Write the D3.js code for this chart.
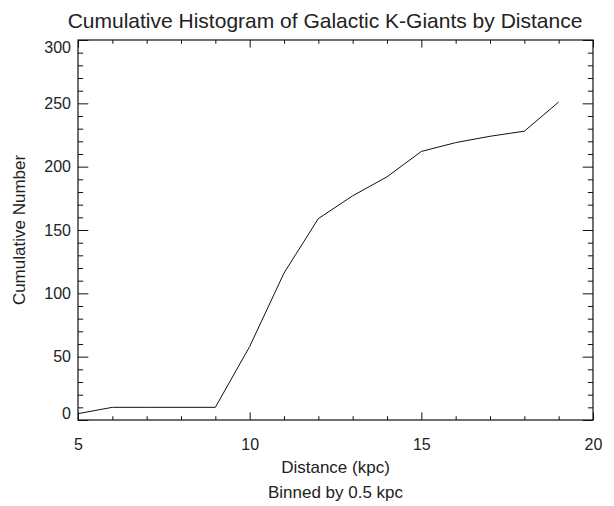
<!DOCTYPE html>
<html>
<head>
<meta charset="utf-8">
<script src="https://cdn.jsdelivr.net/npm/d3@7"></script>
<style>
  body { margin: 0; background: #fff; }
  text { font-family: "Liberation Sans", Arial, Helvetica, sans-serif; fill: #222; }
</style>
</head>
<body>
<div class="chart"></div>
<script>
// cumulative counts, one per kpc
const distance = [5, 6, 7, 8, 9, 10, 11, 12, 13, 14, 15, 16, 17, 18, 19];
const cumulative = [5, 10, 10, 10, 10, 58, 116, 159, 177, 192, 212, 219, 224, 228, 251];
const xMajor = [5, 10, 15, 20];
const yMajor = [0, 50, 100, 150, 200, 250, 300];

const width = 614;
const height = 506;
const margin = {top: 40, right: 21, bottom: 86, left: 78};

const svg = d3.select(".chart")
    .append("svg")
    .attr("width", width)
    .attr("height", height);

const x = d3.scaleLinear().domain([5, 20]).range([margin.left, width - margin.right]);
const y = d3.scaleLinear().domain([0, 300]).range([height - margin.bottom, margin.top]);

const plotW = x.range()[1] - x.range()[0];
const plotH = y.range()[0] - y.range()[1];
// IDL-ish tick lengths: 2% of the other dimension, minors half
const xTick = 0.02 * plotH;
const yTick = 0.02 * plotW;
const xMinor = d3.range(5, 21, 1).filter(d => d % 5 !== 0);
const yMinor = d3.range(0, 301, 10).filter(d => d % 50 !== 0);

// bottom
svg.append("g")
    .attr("transform", `translate(0,${y(0)})`)
    .call(d3.axisBottom(x).tickValues(xMajor).tickSize(-xTick).tickSizeOuter(0).tickPadding(19).tickFormat(d3.format("d")))
    .call(g => g.select(".domain").remove())
    .call(g => g.selectAll("text").attr("font-size", 16).attr("font-family", null));
svg.append("g")
    .attr("transform", `translate(0,${y(0)})`)
    .call(d3.axisBottom(x).tickValues(xMinor).tickSize(-xTick / 2).tickFormat(""))
    .call(g => g.select(".domain").remove());
// top
svg.append("g")
    .attr("transform", `translate(0,${y(300)})`)
    .call(d3.axisTop(x).tickValues(xMajor).tickSize(-xTick).tickFormat(""))
    .call(g => g.select(".domain").remove());
svg.append("g")
    .attr("transform", `translate(0,${y(300)})`)
    .call(d3.axisTop(x).tickValues(xMinor).tickSize(-xTick / 2).tickFormat(""))
    .call(g => g.select(".domain").remove());
// left
svg.append("g")
    .attr("transform", `translate(${x(5)},0)`)
    .call(d3.axisLeft(y).tickValues(yMajor).tickSize(-yTick).tickPadding(7).tickFormat(d3.format("d")))
    .call(g => g.select(".domain").remove())
    .call(g => g.selectAll("text").attr("font-size", 16).attr("font-family", null)
        .attr("dy", d => d === 300 ? "0.75em" : d === 0 ? "-0.1em" : "0.32em"));
svg.append("g")
    .attr("transform", `translate(${x(5)},0)`)
    .call(d3.axisLeft(y).tickValues(yMinor).tickSize(-yTick / 2).tickFormat(""))
    .call(g => g.select(".domain").remove());
// right
svg.append("g")
    .attr("transform", `translate(${x(20)},0)`)
    .call(d3.axisRight(y).tickValues(yMajor).tickSize(-yTick).tickFormat(""))
    .call(g => g.select(".domain").remove());
svg.append("g")
    .attr("transform", `translate(${x(20)},0)`)
    .call(d3.axisRight(y).tickValues(yMinor).tickSize(-yTick / 2).tickFormat(""))
    .call(g => g.select(".domain").remove());

svg.selectAll(".tick line").attr("stroke", "#111");

// box
svg.append("rect")
    .attr("x", x(5))
    .attr("y", y(300))
    .attr("width", plotW)
    .attr("height", plotH)
    .attr("fill", "none")
    .attr("stroke", "#111")
    .attr("stroke-width", 1.2);

// the curve
const line = d3.line()
    .x((d, i) => x(distance[i]))
    .y(d => y(d));
svg.append("path")
    .datum(cumulative)
    .attr("d", line)
    .attr("fill", "none")
    .attr("stroke", "#111")
    .attr("stroke-width", 1);

// titles
svg.append("text")
    .attr("x", 325)
    .attr("y", 28)
    .attr("text-anchor", "middle")
    .attr("font-size", 21)
    .text("Cumulative Histogram of Galactic K-Giants by Distance");
svg.append("text")
    .attr("x", (x(5) + x(20)) / 2)
    .attr("y", 473)
    .attr("text-anchor", "middle")
    .attr("font-size", 17)
    .text("Distance (kpc)");
svg.append("text")
    .attr("x", (x(5) + x(20)) / 2)
    .attr("y", 498)
    .attr("text-anchor", "middle")
    .attr("font-size", 17)
    .text("Binned by 0.5 kpc");
svg.append("text")
    .attr("transform", `translate(25,${(y(0) + y(300)) / 2}) rotate(-90)`)
    .attr("text-anchor", "middle")
    .attr("font-size", 17)
    .text("Cumulative Number");
</script>
</body>
</html>
